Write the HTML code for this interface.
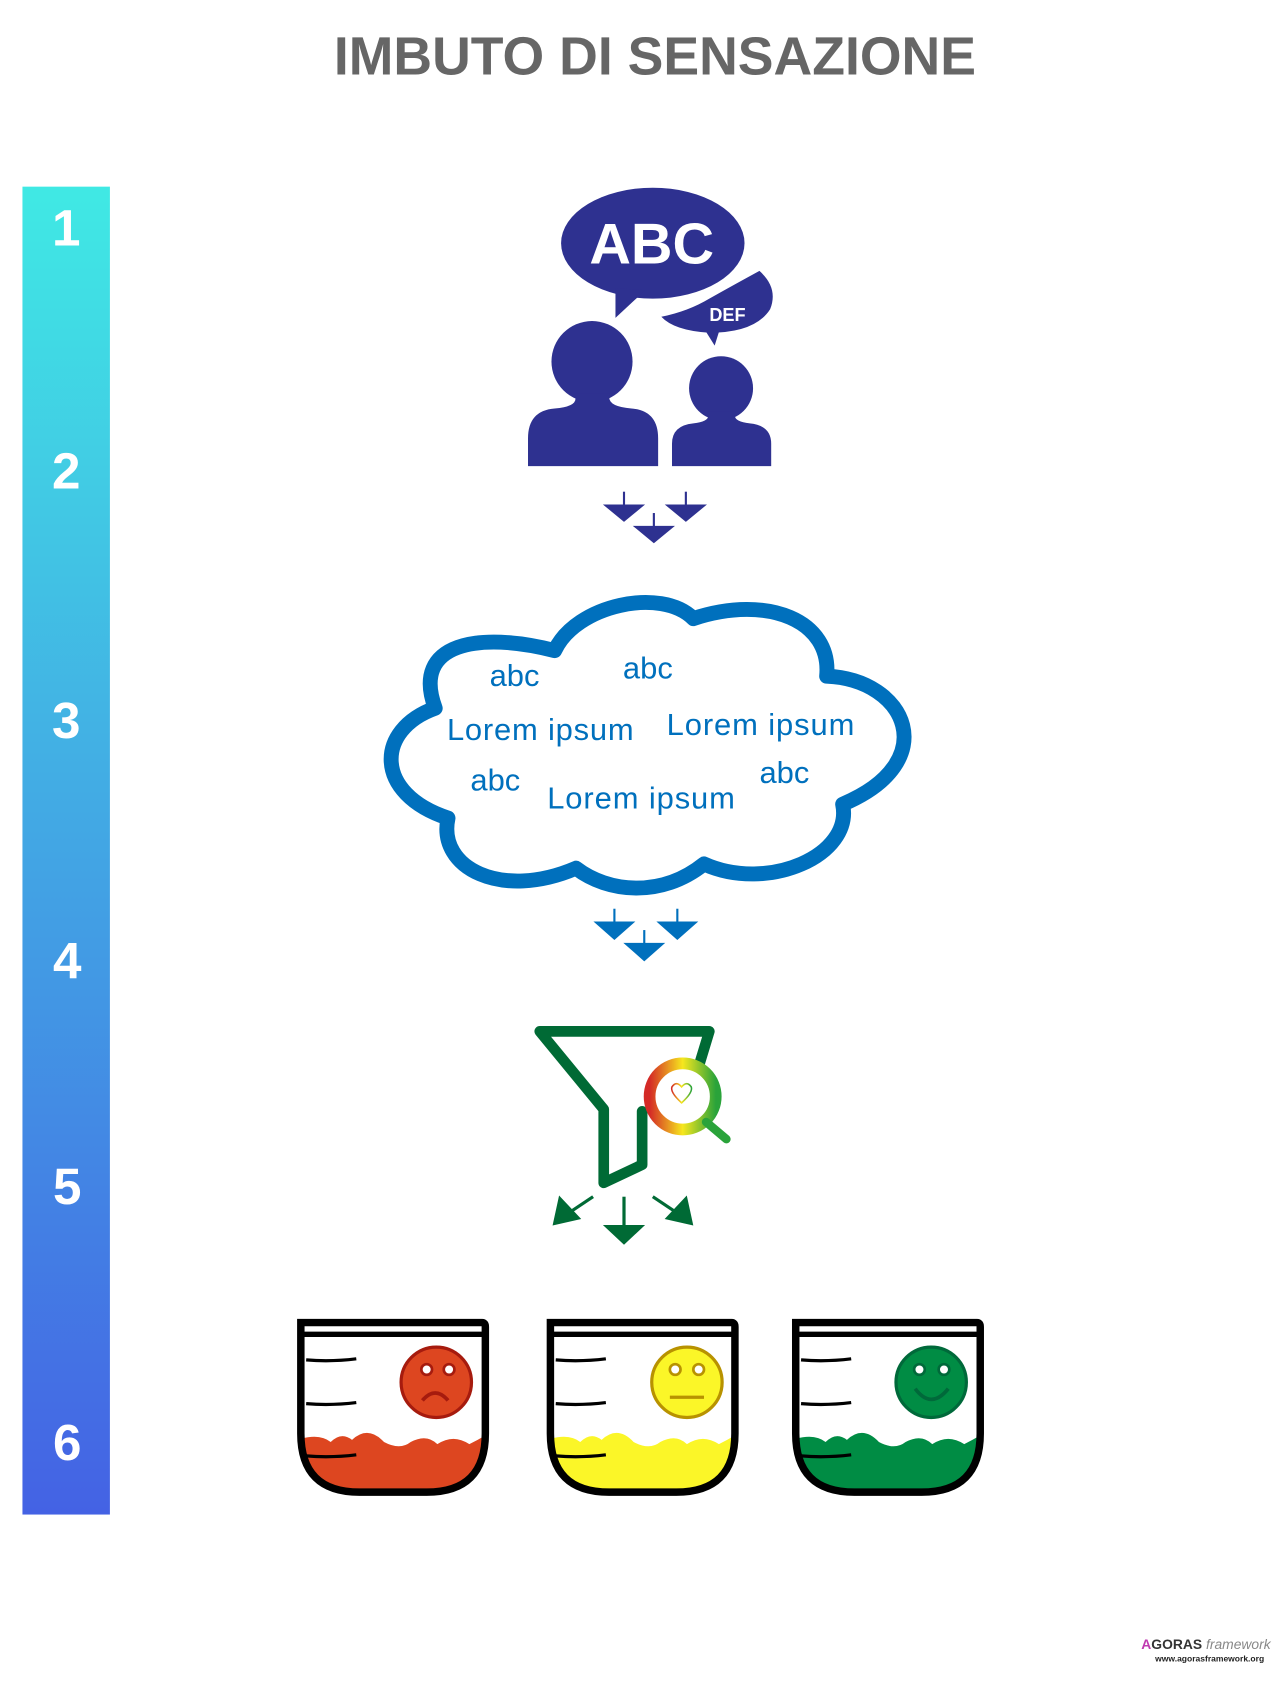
<!DOCTYPE html>
<html><head><meta charset="utf-8"><style>
html,body{margin:0;padding:0;background:#fff;}
svg{display:block;}
</style></head><body>
<svg width="1280" height="1682" viewBox="0 0 1200 1577" xmlns="http://www.w3.org/2000/svg" font-family="Liberation Sans, sans-serif">
<defs>
<linearGradient id="bar" x1="0" y1="0" x2="0" y2="1">
<stop offset="0" stop-color="#40e9e4"/><stop offset="1" stop-color="#4462e4"/>
</linearGradient>
<linearGradient id="mag" x1="0" y1="0" x2="1" y2="0">
<stop offset="0" stop-color="#d42a26"/><stop offset="0.5" stop-color="#f6e71e"/><stop offset="1" stop-color="#2aa33a"/>
</linearGradient>
<clipPath id="c1"><path d="M282 1236 H455 V1340 Q455 1395 400 1395 H337 Q282 1395 282 1340 Z"/></clipPath>
</defs>
<rect width="1200" height="1577" fill="#fff"/>
<text x="313" y="70" font-size="50" font-weight="bold" fill="#666" textLength="602" lengthAdjust="spacingAndGlyphs">IMBUTO DI SENSAZIONE</text>

<rect x="21" y="175" width="82" height="1245" fill="url(#bar)"/>
<g fill="#fff" font-size="48" font-weight="bold" text-anchor="middle">
<text x="62" y="230">1</text><text x="62" y="458">2</text><text x="62" y="692">3</text>
<text x="63" y="917">4</text><text x="63" y="1129">5</text><text x="63" y="1369">6</text>
</g>

<!-- people -->
<g fill="#2e3190">
<ellipse cx="612" cy="228" rx="86" ry="52"/>
<path d="M577 270 L577 298 L605 272 Z"/>
<path d="M712 254 Q730 270 722 290 Q708 312 665 312 Q632 310 620 297 Q645 292 665 280 Q690 266 712 254 Z"/>
<path d="M660 308 L670 324 L675 308 Z"/>
<circle cx="555" cy="339" r="38"/>
<path d="M538 369 Q545 381 520 383 Q495 385 495 411 V437 H617 V411 Q617 385 592 383 Q567 381 572 369 Z"/>
<circle cx="676" cy="364" r="30"/>
<path d="M663 386 Q668 395 650 397 Q630 399 630 416 V437 H723 V416 Q723 399 703 397 Q685 395 690 386 Z"/>
</g>
<text x="611" y="247" text-anchor="middle" font-size="54" font-weight="bold" fill="#fff">ABC</text>
<text x="682" y="301" text-anchor="middle" font-size="17" font-weight="bold" fill="#fff">DEF</text>
<g fill="#2e3190" stroke="#2e3190" stroke-width="2">
<line x1="585" y1="461" x2="585" y2="476"/><path d="M568 474 H602 L585 488 Z"/>
<line x1="643" y1="461" x2="643" y2="476"/><path d="M626 474 H660 L643 488 Z"/>
<line x1="613" y1="481" x2="613" y2="496"/><path d="M596 494 H630 L613 508 Z"/>
</g>

<!-- cloud -->
<path d="M408 664 C385 602 450 592 520 610 C540 567 620 550 650 580 C720 557 780 582 775 634 C850 637 885 714 790 754 C800 802 720 837 660 810 C620 842 570 837 540 814 C470 844 410 814 420 767 C350 744 352 684 408 664 Z" fill="#fff" stroke="#0070bd" stroke-width="14" stroke-linejoin="round"/>
<g fill="#0070bd" font-size="29">
<text x="459" y="643">abc</text>
<text x="584" y="636">abc</text>
<text x="419" y="694" textLength="175">Lorem ipsum</text>
<text x="625" y="689" textLength="176">Lorem ipsum</text>
<text x="441" y="741">abc</text>
<text x="513" y="758" textLength="176">Lorem ipsum</text>
<text x="712" y="734">abc</text>
</g>
<g fill="#0070bd" stroke="#0070bd" stroke-width="2">
<line x1="576" y1="852" x2="576" y2="867"/><path d="M559 865 H593 L576 880 Z"/>
<line x1="635" y1="852" x2="635" y2="867"/><path d="M618 865 H652 L635 880 Z"/>
<line x1="604" y1="872" x2="604" y2="887"/><path d="M587 885 H621 L604 900 Z"/>
</g>

<!-- funnel -->
<g fill="none" stroke="#006a35" stroke-width="10" stroke-linejoin="round" stroke-linecap="round">
<path d="M655 1000 L665 967 H506 L566 1040 V1109 L602 1092 V1042"/>
</g>
<circle cx="640" cy="1028" r="31" fill="#fff" stroke="url(#mag)" stroke-width="11"/>
<line x1="662" y1="1052" x2="681" y2="1068" stroke="#2aa33a" stroke-width="8" stroke-linecap="round"/>
<path d="M639 1034 Q628 1024 630 1019 Q634 1013 639 1019 Q644 1013 648 1019 Q650 1024 639 1034 Z" fill="none" stroke="url(#mag)" stroke-width="1.5"/>
<g stroke="#006a35" stroke-width="3" fill="#006a35">
<line x1="556" y1="1122" x2="532" y2="1138"/><path d="M520 1147 L525 1124 L542 1142 Z"/>
<line x1="585" y1="1122" x2="585" y2="1152"/><path d="M569 1150 H601 L585 1165 Z"/>
<line x1="612" y1="1122" x2="636" y2="1138"/><path d="M648 1147 L643 1124 L626 1142 Z"/>
</g>

<!-- beakers -->
<g transform="translate(0,4)">
<path d="M282 1345 Q300 1340 310 1348 Q320 1338 330 1346 Q345 1332 360 1348 Q375 1356 385 1348 Q400 1340 410 1350 Q425 1340 440 1350 Q450 1345 458 1340 V1400 H279 Z" fill="#dd4620" clip-path="url(#c1)"/>
<g transform="translate(234,0)"><path d="M282 1345 Q300 1340 310 1348 Q320 1338 330 1346 Q345 1332 360 1348 Q375 1356 385 1348 Q400 1340 410 1350 Q425 1340 440 1350 Q450 1345 458 1340 V1400 H279 Z" fill="#fbf628" clip-path="url(#c1)"/></g>
<g transform="translate(464,0)"><path d="M282 1345 Q300 1340 310 1348 Q320 1338 330 1346 Q345 1332 360 1348 Q375 1356 385 1348 Q400 1340 410 1350 Q425 1340 440 1350 Q450 1345 458 1340 V1400 H279 Z" fill="#008c44" clip-path="url(#c1)"/></g>
<g id="beak" fill="none" stroke="#000">
<path d="M282 1236 H452 Q455 1236 455 1240 V1340 Q455 1395 400 1395 H337 Q282 1395 282 1340 Z" stroke-width="7"/>
<line x1="282" y1="1247" x2="455" y2="1247" stroke-width="5"/>
<path d="M287 1271 Q310 1273 334 1270 M287 1312 Q310 1314 334 1311 M287 1361 Q310 1363 334 1360" stroke-width="3"/>
</g>
<use href="#beak" transform="translate(234,0)"/>
<use href="#beak" transform="translate(464,0)"/>
<circle cx="409" cy="1292" r="33" fill="#dd4620" stroke="#a61b0e" stroke-width="3"/>
<circle cx="400" cy="1280" r="5" fill="#fff" stroke="#a61b0e" stroke-width="2.5"/><circle cx="421" cy="1280" r="5" fill="#fff" stroke="#a61b0e" stroke-width="2.5"/>
<path d="M396 1309 Q408 1295 420 1309" fill="none" stroke="#a61b0e" stroke-width="3.5"/>
<circle cx="644" cy="1292" r="33" fill="#fbf628" stroke="#b89200" stroke-width="3"/>
<circle cx="633" cy="1280" r="5" fill="#fff" stroke="#b89200" stroke-width="2.5"/><circle cx="655" cy="1280" r="5" fill="#fff" stroke="#b89200" stroke-width="2.5"/>
<line x1="628" y1="1306" x2="660" y2="1306" stroke="#b89200" stroke-width="3"/>
<circle cx="873" cy="1292" r="33" fill="#008c44" stroke="#00693a" stroke-width="3"/>
<circle cx="862" cy="1280" r="5" fill="#fff" stroke="#00693a" stroke-width="2.5"/><circle cx="885" cy="1280" r="5" fill="#fff" stroke="#00693a" stroke-width="2.5"/>
<path d="M858 1298 Q873 1318 889 1298" fill="none" stroke="#00693a" stroke-width="3.5"/>
</g>

<!-- logo -->
<text x="1070" y="1546" font-size="13" font-weight="bold" fill="#333"><tspan fill="#c03ab0">A</tspan>GORAS <tspan font-weight="normal" font-style="italic" fill="#888">framework</tspan></text>
<text x="1083" y="1558" font-size="8" font-weight="bold" fill="#222">www.agorasframework.org</text>
</svg>
</body></html>
